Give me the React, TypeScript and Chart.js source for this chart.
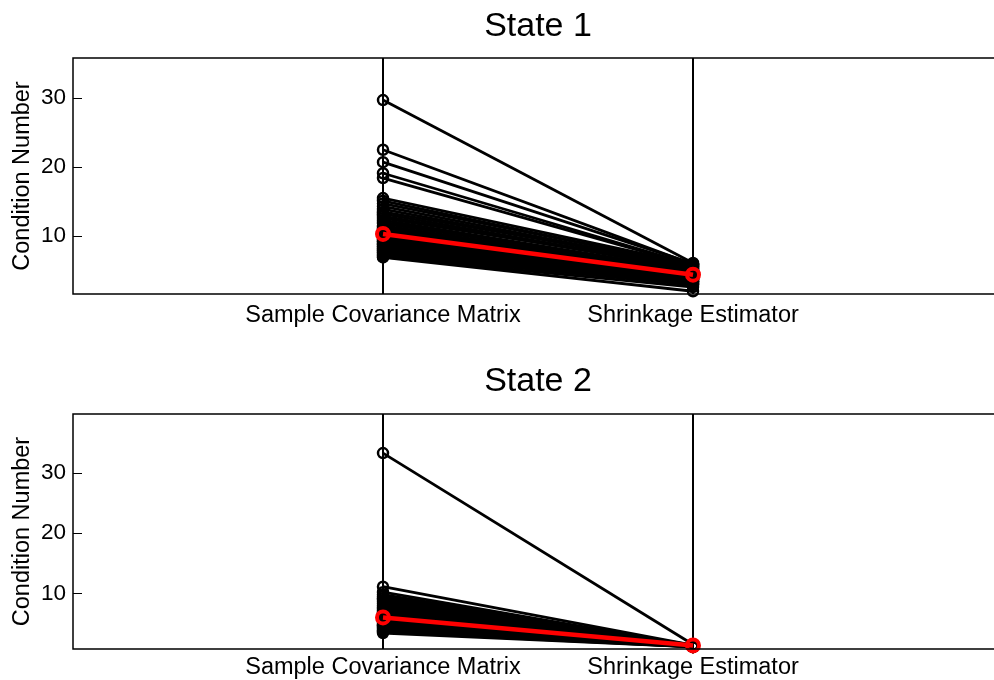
import React, { useEffect, useRef } from 'react';
import { Chart, registerables } from 'chart.js';
Chart.register(...registerables);

const categories = ['Sample Covariance Matrix', 'Shrinkage Estimator'];
const yTickValues = [10, 20, 30];

const state1Sample = [29.7, 22.5, 20.7, 19.1, 18.4, 15.5, 15.1, 14.7, 14.3, 13.9, 13.5, 13.2, 12.9, 12.6, 12.3, 12.0, 11.8, 11.5, 11.3, 11.1, 10.9, 10.7, 10.5, 10.3, 10.1, 9.9, 9.7, 9.5, 9.3, 9.2, 9.0, 8.8, 8.7, 8.5, 8.4, 8.2, 8.1, 7.9, 7.8, 7.6, 7.5, 7.3, 7.2, 7.0, 6.9];
const state1Shrink = [6.1, 5.9, 6.0, 5.8, 5.7, 5.9, 5.6, 5.8, 5.5, 5.4, 5.7, 5.3, 5.2, 5.5, 5.0, 4.9, 5.1, 4.8, 4.7, 4.9, 4.6, 4.5, 4.4, 4.6, 4.3, 4.2, 4.0, 4.3, 3.9, 4.1, 3.8, 3.7, 3.9, 3.6, 3.5, 3.4, 3.7, 3.3, 3.2, 3.4, 3.0, 2.9, 3.1, 2.6, 2.0];
const state1Mean = [10.3, 4.4];

const state2Sample = [33.3, 11.1, 10.2, 9.8, 9.5, 9.2, 8.9, 8.6, 8.3, 8.0, 7.7, 7.5, 7.2, 7.0, 6.8, 6.6, 6.4, 6.2, 6.0, 5.8, 5.6, 5.4, 5.2, 5.0, 4.8, 4.6, 4.4, 4.2, 4.0, 3.8, 3.6, 3.4];
const state2Shrink = [1.5, 1.4, 1.3, 1.4, 1.2, 1.3, 1.3, 1.2, 1.4, 1.2, 1.3, 1.2, 1.3, 1.2, 1.1, 1.2, 1.3, 1.2, 1.1, 1.2, 1.2, 1.1, 1.2, 1.1, 1.2, 1.1, 1.1, 1.2, 1.1, 1.1, 1.1, 1.1];
const state2Mean = [6.0, 1.35];

const FONT = '"Liberation Sans", Arial, Helvetica, sans-serif';
const AXIS_FONT_SIZE = 23.5;

const framePlugin = {
  id: 'frame',
  afterDraw(chart: any, _args: any, opts: any) {
    const { ctx, chartArea, scales } = chart;
    const { left, top, right, bottom } = chartArea;
    ctx.save();
    ctx.strokeStyle = '#000';
    ctx.lineWidth = 1.5;
    ctx.beginPath();
    ctx.moveTo(right, top);
    ctx.lineTo(left, top);
    ctx.lineTo(left, bottom);
    ctx.lineTo(right, bottom);
    ctx.stroke();
    ctx.lineWidth = 1;
    ctx.beginPath();
    yTickValues.forEach((v) => {
      const py = Math.round(scales.y.getPixelForValue(v)) + 0.5;
      ctx.moveTo(left, py);
      ctx.lineTo(left + 9, py);
    });
    ctx.stroke();
    ctx.fillStyle = '#000';
    ctx.font = `34px ${FONT}`;
    ctx.textAlign = 'center';
    ctx.textBaseline = 'middle';
    ctx.fillText(opts.text, scales.x.getPixelForValue(1.5), opts.y);
    ctx.restore();
  },
};

function makeConfig(title: string, titleY: number, sample: number[], shrink: number[], mean: number[], yMin: number, yMax: number, padTop: number, xAxisHeight: number, labelPad: number): any {
  const datasets: any[] = [];
  datasets.push({
    data: [{ x: 1, y: mean[0] }, { x: 2, y: mean[1] }],
    borderColor: '#ff0000',
    borderWidth: 4.5,
    pointRadius: 6,
    pointBorderWidth: 4,
    pointBorderColor: '#ff0000',
    pointBackgroundColor: 'rgba(0,0,0,0)',
    clip: false,
  });
  sample.forEach((v, i) => {
    datasets.push({
      data: [{ x: 1, y: v }, { x: 2, y: shrink[i] }],
      borderColor: '#000',
      borderWidth: 2.8,
      pointRadius: 5,
      pointBorderWidth: 2.5,
      pointBorderColor: '#000',
      pointBackgroundColor: 'rgba(0,0,0,0)',
      clip: false,
    });
  });
  return {
    type: 'line',
    data: { datasets },
    options: {
      animation: false,
      responsive: false,
      devicePixelRatio: 1,
      layout: { autoPadding: false, padding: { top: padTop, left: 0, right: 0, bottom: 0 } },
      plugins: {
        legend: { display: false },
        tooltip: { enabled: false },
        frame: { text: title, y: titleY },
      },
      scales: {
        x: {
          type: 'linear',
          min: 0,
          max: 921 / 310,
          afterBuildTicks: (s: any) => {
            s.ticks = [{ value: 1 }, { value: 2 }];
          },
          afterFit: (s: any) => {
            s.height = xAxisHeight;
          },
          ticks: {
            callback: (v: any) => categories[Math.round(v) - 1],
            font: { family: FONT, size: AXIS_FONT_SIZE },
            color: '#000',
            padding: labelPad,
            maxRotation: 0,
            autoSkip: false,
          },
          grid: { color: '#000', lineWidth: 2, drawTicks: false },
          border: { display: false },
        },
        y: {
          type: 'linear',
          min: yMin,
          max: yMax,
          afterBuildTicks: (s: any) => {
            s.ticks = yTickValues.map((v) => ({ value: v }));
          },
          afterFit: (s: any) => {
            s.width = 73;
          },
          ticks: {
            font: { family: FONT, size: 22.5 },
            color: '#000',
            padding: 7,
          },
          grid: { drawOnChartArea: false, drawTicks: false },
          border: { display: false },
          title: {
            display: true,
            text: 'Condition Number',
            font: { family: FONT, size: AXIS_FONT_SIZE },
            color: '#000',
            padding: { top: 8, bottom: 0 },
          },
        },
      },
    },
    plugins: [framePlugin],
  };
}

function Panel({ config, top }: { config: any; top: number }) {
  const ref = useRef<HTMLCanvasElement | null>(null);
  useEffect(() => {
    if (!ref.current) return;
    const chart = new Chart(ref.current, config);
    return () => chart.destroy();
  }, [config]);
  return (
    <canvas
      ref={ref}
      width={994}
      height={340}
      style={{ position: 'absolute', left: 0, top, width: 994, height: 340, display: 'block' }}
    />
  );
}

const config1 = makeConfig('State 1', 27, state1Sample, state1Shrink, state1Mean, 1.6, 35.8, 58, 46, 7);
const config2 = makeConfig('State 2', 42, state2Sample, state2Shrink, state2Mean, 0.75, 39.8, 74, 31, 4);

export default function App() {
  return (
    <div style={{ position: 'absolute', left: 0, top: 0, width: 994, height: 680, background: '#fff', overflow: 'hidden' }}>
      <Panel config={config1} top={0} />
      <Panel config={config2} top={340} />
    </div>
  );
}
